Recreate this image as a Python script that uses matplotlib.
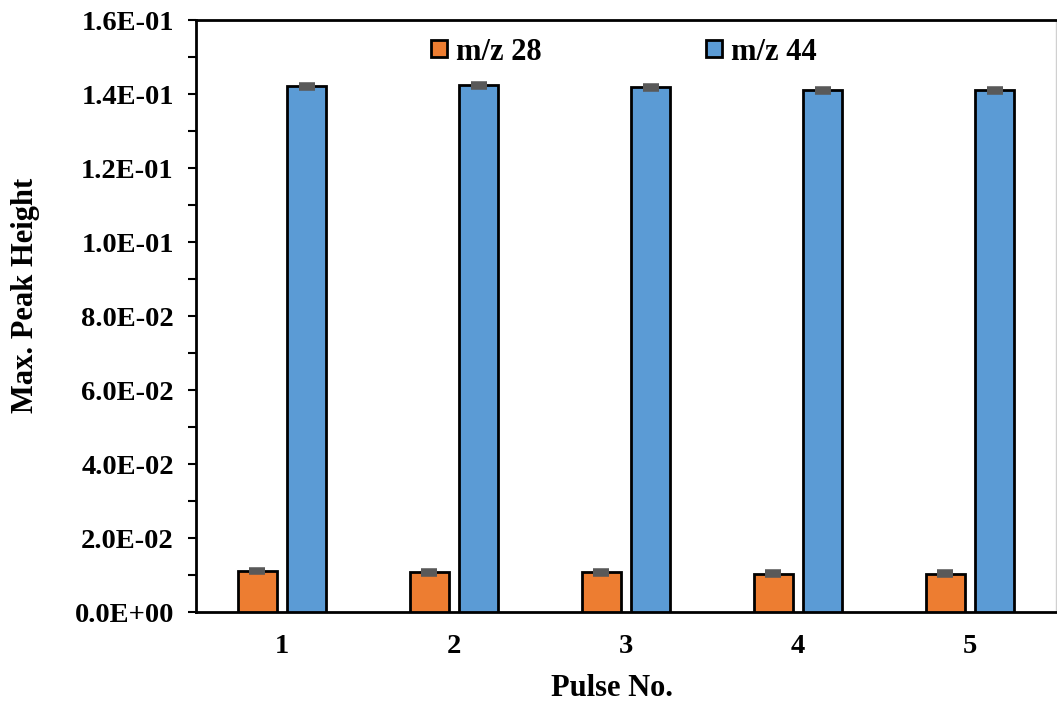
import numpy as np
import matplotlib.pyplot as plt
from matplotlib.ticker import MultipleLocator, FuncFormatter

plt.rcParams['font.family'] = ['Liberation Serif', 'DejaVu Serif']
plt.rcParams['font.weight'] = 'bold'

# data
pulses = ['1', '2', '3', '4', '5']
mz28 = [0.0111, 0.0107, 0.0107, 0.0104, 0.0104]
mz44 = [0.1421, 0.1424, 0.1418, 0.1410, 0.1410]
mz28_err = [0.0003, 0.0003, 0.0003, 0.0003, 0.0003]
mz44_err = [0.0004, 0.0004, 0.0004, 0.0004, 0.0004]

fig = plt.figure(figsize=(10.57, 7.04), dpi=100)
ax = fig.add_axes([196/1057, 92/704, 860/1057, 592/704])

x = np.arange(len(pulses))
w = 0.227
off = 0.145
ekw = dict(ecolor='#595959', elinewidth=2, capsize=6, capthick=4, zorder=4)
ax.bar(x - off, mz28, w, yerr=mz28_err, color='#ED7D31', edgecolor='black',
       linewidth=2, label='m/z 28', error_kw=ekw, zorder=3)
ax.bar(x + off, mz44, w, yerr=mz44_err, color='#5B9BD5', edgecolor='black',
       linewidth=2, label='m/z 44', error_kw=ekw, zorder=3)

ax.set_xlim(-0.5, 4.5)
ax.set_ylim(0, 0.16)
ax.set_xticks(x)
ax.set_xticklabels(pulses)
ax.yaxis.set_major_locator(MultipleLocator(0.02))
ax.yaxis.set_minor_locator(MultipleLocator(0.01))
ax.yaxis.set_major_formatter(FuncFormatter(lambda v, p: '{:.1E}'.format(v)))
ax.tick_params(axis='x', length=0, pad=16, labelsize=20.5)
ax.tick_params(axis='y', which='both', direction='out', length=6, width=1.5,
               pad=10, labelsize=20.5)

for s in ['left', 'top', 'bottom']:
    ax.spines[s].set_linewidth(2)
ax.spines['right'].set_linewidth(1)
ax.spines['right'].set_color('#d0d0d0')

ax.set_xlabel('Pulse No.', fontsize=22, fontweight='bold', labelpad=11)
ax.set_ylabel('Max. Peak Height', fontsize=22, fontweight='bold', labelpad=25)
# label placement in the original is a bit off-centre
ax.xaxis.label.set_x(0.484)
ax.yaxis.label.set_y(0.534)

ax.legend(loc='center', bbox_to_anchor=(624/1057, 1 - 52/704),
          bbox_transform=fig.transFigure, ncol=2, frameon=False,
          fontsize=22, handlelength=0.5, handleheight=0.5,
          handletextpad=0.3, columnspacing=5.4)

fig.savefig('out.png', dpi=100)
